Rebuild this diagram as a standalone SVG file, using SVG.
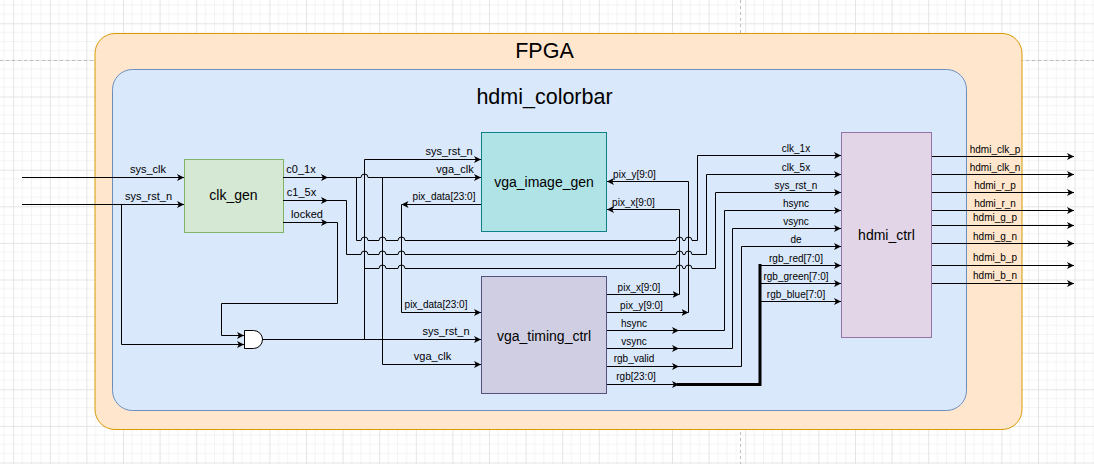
<svg xmlns="http://www.w3.org/2000/svg" width="1094" height="464" viewBox="0 0 1094 464">
<style>
.wire{fill:none;stroke:#000;stroke-width:1}
.bold{fill:none;stroke:#000;stroke-width:3}
.arr{marker-end:url(#ah)}
.l11{font-family:"Liberation Sans",Arial,sans-serif;font-size:11px;fill:#000;text-anchor:middle}
.l10{font-family:"Liberation Sans",Arial,sans-serif;font-size:10px;fill:#000;text-anchor:middle}
.nt{font-family:"Liberation Sans",Arial,sans-serif;font-size:14px;fill:#000;text-anchor:middle}
.tt{font-family:"Liberation Sans",Arial,sans-serif;font-size:21.5px;fill:#000;text-anchor:middle}
</style>
<defs>
<pattern id="grid" width="36.6" height="36.6" patternUnits="userSpaceOnUse" x="13.2" y="23.3">
<path d="M9.15,0V36.6M18.3,0V36.6M27.45,0V36.6M0,9.15H36.6M0,18.3H36.6M0,27.45H36.6" stroke="#f3f3f3" stroke-width="1" fill="none"/>
<path d="M0.5,0V36.6M0,0.5H36.6" stroke="#e4e4e4" stroke-width="1" fill="none"/>
</pattern>
<marker id="ah" markerUnits="userSpaceOnUse" markerWidth="8" markerHeight="8" refX="7" refY="3.5" orient="auto">
<path d="M0,0 L7,3.5 L0,7 L1.8,3.5 Z" fill="#000"/>
</marker>
</defs>
<rect width="1094" height="464" fill="#fff"/>
<rect width="1094" height="464" fill="url(#grid)"/>
<path d="M0,60.5H1094M740.5,0V464" stroke="#bdbdbd" stroke-dasharray="3 3" fill="none"/>

<g id="fpga">
<rect x="95" y="33.5" width="927" height="396" rx="20" ry="20" fill="#ffe6cc" stroke="#d79b00"/>
<text class="tt" x="544.5" y="58">FPGA</text>
</g>
<g id="hdmi_colorbar">
<rect x="112.5" y="69.5" width="854" height="341" rx="20" ry="20" fill="#dae8fc" stroke="#6c8ebf"/>
<text class="tt" x="544.5" y="104">hdmi_colorbar</text>
</g>
<g id="clk_gen">
<rect x="184.5" y="159.5" width="99" height="73" fill="#d5e8d4" stroke="#82b366"/>
<text class="nt" x="233.5" y="200">clk_gen</text>
</g>
<g id="vga_image_gen">
<rect x="481.5" y="132.5" width="125" height="99" fill="#b0e3e6" stroke="#0e8088"/>
<text class="nt" x="544" y="187">vga_image_gen</text>
</g>
<g id="vga_timing_ctrl">
<rect x="481.5" y="276.5" width="125" height="117" fill="#d0cee2" stroke="#56517e"/>
<text class="nt" x="544" y="341">vga_timing_ctrl</text>
</g>
<g id="hdmi_ctrl">
<rect x="841.5" y="132.5" width="90" height="205" fill="#e1d5e7" stroke="#9673a6"/>
<text class="nt" x="886.5" y="240">hdmi_ctrl</text>
</g>
<g id="and_gate">
<path d="M244.5,330.5H253.5A9,9 0 0 1 253.5,348.5H244.5Z" fill="#fff" stroke="#000"/>
</g>

<g id="connectors">
<!-- inputs -->
<path class="wire arr" d="M22,177.5H184"/>
<path class="wire arr" d="M22,204.5H184"/>
<path class="wire arr" d="M121.5,204.5V344.5H244"/>
<!-- c0_1x -->
<path class="wire arr" d="M283,177.5H328"/>
<path class="wire arr" d="M328,177.5H361a3.5,3.5 0 0 1 7,0H481"/>
<path class="wire arr" d="M356.5,177.5V240.5H361a3.5,3.5 0 0 1 7,0H379a3.5,3.5 0 0 1 7,0H398a3.5,3.5 0 0 1 7,0H676a3.5,3.5 0 0 1 7,0H685a3.5,3.5 0 0 1 7,0H697.5V155.5H841"/>
<path class="wire arr" d="M382.5,177.5V364.5H481"/>
<!-- c1_5x -->
<path class="wire arr" d="M283,200.5H328"/>
<path class="wire arr" d="M328,200.5H346.5V254.5H361a3.5,3.5 0 0 1 7,0H379a3.5,3.5 0 0 1 7,0H398a3.5,3.5 0 0 1 7,0H676a3.5,3.5 0 0 1 7,0H685a3.5,3.5 0 0 1 7,0H706.5V174.5H841"/>
<!-- locked -->
<path class="wire arr" d="M283,222.5H328"/>
<path class="wire arr" d="M328,222.5H337.5V303.5H221.5V335.5H244"/>
<!-- and output / sys_rst_n -->
<path class="wire arr" d="M262,339.5H481"/>
<path class="wire arr" d="M364.5,339.5V159.5H481"/>
<path class="wire arr" d="M364.5,268.5H379a3.5,3.5 0 0 1 7,0H398a3.5,3.5 0 0 1 7,0H676a3.5,3.5 0 0 1 7,0H685a3.5,3.5 0 0 1 7,0H715.5V192.5H841"/>
<!-- pix_data -->
<path class="wire arr" d="M481,204.5H401.5"/>
<path class="wire arr" d="M401.5,204.5V312.5H481"/>
<!-- pix_x / pix_y -->
<path class="wire arr" d="M607,294.5H679.5"/>
<path class="wire arr" d="M679.5,294.5V209.5H607"/>
<path class="wire arr" d="M607,312.5H688.5"/>
<path class="wire arr" d="M688.5,312.5V181.5H607"/>
<!-- hsync / vsync / rgb_valid -->
<path class="wire arr" d="M607,330.5H679"/>
<path class="wire arr" d="M679,330.5H724.5V210.5H841"/>
<path class="wire arr" d="M607,348.5H679"/>
<path class="wire arr" d="M679,348.5H732.5V228.5H841"/>
<path class="wire arr" d="M607,366.5H679"/>
<path class="wire arr" d="M679,366.5H741.5V246.5H841"/>
<!-- rgb -->
<path class="wire arr" d="M607,384.5H679"/>
<path class="bold" d="M677,384.5H760V264"/>
<path class="wire arr" d="M760,265.5H841"/>
<path class="wire arr" d="M760,283.5H841"/>
<path class="wire arr" d="M760,301.5H841"/>
<!-- hdmi outputs -->
<path class="wire arr" d="M932,156.5H1074"/>
<path class="wire arr" d="M932,174.5H1074"/>
<path class="wire arr" d="M932,192.5H1074"/>
<path class="wire arr" d="M932,210.5H1074"/>
<path class="wire arr" d="M932,225.5H1074"/>
<path class="wire arr" d="M932,243.5H1074"/>
<path class="wire arr" d="M932,265.5H1074"/>
<path class="wire arr" d="M932,283.5H1074"/>
</g>

<g id="labels">
<text class="l11" x="148" y="173">sys_clk</text>
<text class="l11" x="148.5" y="200">sys_rst_n</text>
<text class="l11" x="301" y="173">c0_1x</text>
<text class="l11" x="301.5" y="196">c1_5x</text>
<text class="l11" x="307" y="218">locked</text>
<text class="l11" x="449" y="155">sys_rst_n</text>
<text class="l11" x="455" y="173">vga_clk</text>
<text class="l10" x="444" y="199.5">pix_data[23:0]</text>
<text class="l10" x="436" y="308">pix_data[23:0]</text>
<text class="l11" x="446" y="335">sys_rst_n</text>
<text class="l11" x="432.5" y="360">vga_clk</text>
<text class="l10" x="634.5" y="177.5">pix_y[9:0]</text>
<text class="l10" x="633.5" y="205.5">pix_x[9:0]</text>
<text class="l10" x="639" y="290.5">pix_x[9:0]</text>
<text class="l10" x="641.5" y="308.5">pix_y[9:0]</text>
<text class="l10" x="634" y="326.5">hsync</text>
<text class="l10" x="634" y="344.5">vsync</text>
<text class="l10" x="634" y="362">rgb_valid</text>
<text class="l10" x="636" y="380">rgb[23:0]</text>
<text class="l10" x="796" y="152">clk_1x</text>
<text class="l10" x="796" y="171">clk_5x</text>
<text class="l10" x="796" y="189">sys_rst_n</text>
<text class="l10" x="796" y="207">hsync</text>
<text class="l10" x="796" y="225">vsync</text>
<text class="l10" x="796" y="242.5">de</text>
<text class="l10" x="796" y="261.5">rgb_red[7:0]</text>
<text class="l10" x="796" y="279.5">rgb_green[7:0]</text>
<text class="l10" x="796" y="297.5">rgb_blue[7:0]</text>
<text class="l10" x="995" y="152.5">hdmi_clk_p</text>
<text class="l10" x="995" y="170.5">hdmi_clk_n</text>
<text class="l10" x="995" y="188.5">hdmi_r_p</text>
<text class="l10" x="995" y="206.5">hdmi_r_n</text>
<text class="l10" x="995" y="221">hdmi_g_p</text>
<text class="l10" x="995" y="239.5">hdmi_g_n</text>
<text class="l10" x="995" y="260.5">hdmi_b_p</text>
<text class="l10" x="995" y="278.5">hdmi_b_n</text>
</g>
</svg>
